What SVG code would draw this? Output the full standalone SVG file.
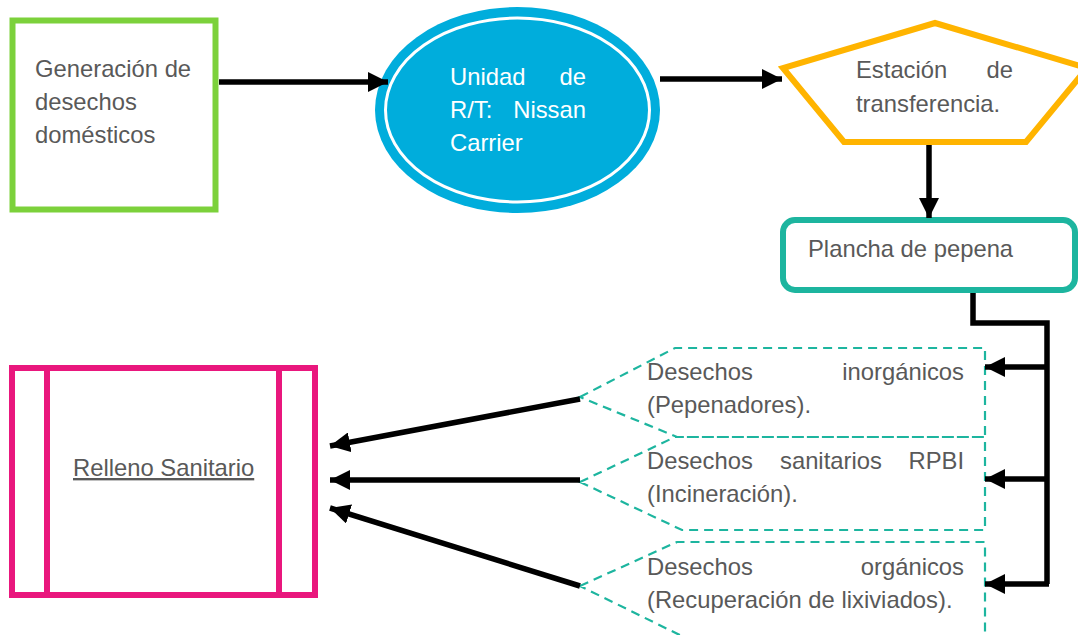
<svg xmlns="http://www.w3.org/2000/svg" width="1078" height="635" viewBox="0 0 1078 635">
<defs>
<style>
.t{font-family:"Liberation Sans",Arial,sans-serif;font-size:23.8px;fill:#595959}
.w{fill:#ffffff}
.e{text-anchor:end}
.ln{stroke:#000;stroke-width:5.5;fill:none}
.dash{fill:none;stroke:#1DB59F;stroke-width:2.2;stroke-dasharray:9 6}
</style>
<marker id="ah" markerUnits="userSpaceOnUse" markerWidth="22" markerHeight="20" refX="20" refY="10" orient="auto">
<path d="M0,0 L20,10 L0,20 Z" fill="#000"/>
</marker>
</defs>
<g id="generacion">
<rect x="12.5" y="20.5" width="203" height="189" fill="#fff" stroke="#7CD13B" stroke-width="6"/>
<text class="t" x="35" y="77">Generación de</text>
<text class="t" x="35" y="110">desechos</text>
<text class="t" x="35" y="143">domésticos</text>
</g>
<g id="unidad">
<ellipse cx="517.5" cy="110" rx="142.5" ry="103" fill="#00ADDC"/>
<ellipse cx="517.5" cy="110" rx="132" ry="92" fill="none" stroke="#fff" stroke-width="3"/>
<text class="t w" x="450" y="85">Unidad</text>
<text class="t w e" x="586" y="85">de</text>
<text class="t w" x="450" y="118">R/T:</text>
<text class="t w e" x="586" y="118">Nissan</text>
<text class="t w" x="450" y="151">Carrier</text>
</g>
<g id="estacion">
<polygon points="935,23 1087,68 1026,142 844,142 783,68" fill="#fff" stroke="#FFB400" stroke-width="6" stroke-linejoin="miter"/>
<text class="t" x="856" y="78">Estación</text>
<text class="t e" x="1013" y="78">de</text>
<text class="t" x="856" y="112">transferencia.</text>
</g>
<g id="plancha">
<rect x="783" y="220" width="292" height="70" rx="12" ry="12" fill="#fff" stroke="#1DB59F" stroke-width="6"/>
<text class="t" x="808" y="257">Plancha de pepena</text>
</g>
<g id="relleno">
<rect x="12" y="368" width="303" height="227" fill="#fff" stroke="#E9177D" stroke-width="6"/>
<line x1="47" y1="368" x2="47" y2="595" stroke="#E9177D" stroke-width="6"/>
<line x1="279" y1="368" x2="279" y2="595" stroke="#E9177D" stroke-width="6"/>
<text class="t" x="73" y="476" text-decoration="underline">Relleno Sanitario</text>
</g>
<g id="inorganicos">
<polygon class="dash" points="580,397 675,348 985,348 985,437 677,437"/>
<text class="t" x="647" y="380">Desechos</text>
<text class="t e" x="964" y="380">inorgánicos</text>
<text class="t" x="647" y="413">(Pepenadores).</text>
</g>
<g id="sanitarios">
<polygon class="dash" points="580,482 675,437 985,437 985,530 682,530"/>
<text class="t" x="647" y="469">Desechos</text>
<text class="t" x="780" y="469">sanitarios</text>
<text class="t e" x="964" y="469">RPBI</text>
<text class="t" x="647" y="502">(Incineración).</text>
</g>
<g id="organicos">
<polygon class="dash" points="580,586 677,542 985,542 985,645 700,645"/>
<text class="t" x="647" y="575">Desechos</text>
<text class="t e" x="964" y="575">orgánicos</text>
<text class="t" x="647" y="608">(Recuperación de lixiviados).</text>
</g>
<g id="connectors">
<line class="ln" x1="219" y1="82" x2="388" y2="82" marker-end="url(#ah)"/>
<line class="ln" x1="660" y1="79" x2="782" y2="79" marker-end="url(#ah)"/>
<line class="ln" x1="929" y1="145" x2="929" y2="218" marker-end="url(#ah)"/>
<polyline class="ln" points="973,293 973,323 1047,323 1047,584"/>
<line class="ln" x1="1047" y1="367" x2="985" y2="367" marker-end="url(#ah)"/>
<line class="ln" x1="1047" y1="479" x2="985" y2="479" marker-end="url(#ah)"/>
<line class="ln" x1="1049" y1="584" x2="985" y2="584" marker-end="url(#ah)"/>
<line class="ln" x1="580" y1="399" x2="330" y2="446" marker-end="url(#ah)"/>
<line class="ln" x1="580" y1="480" x2="330" y2="480" marker-end="url(#ah)"/>
<line class="ln" x1="580" y1="586" x2="330" y2="508" marker-end="url(#ah)"/>
</g>
</svg>
